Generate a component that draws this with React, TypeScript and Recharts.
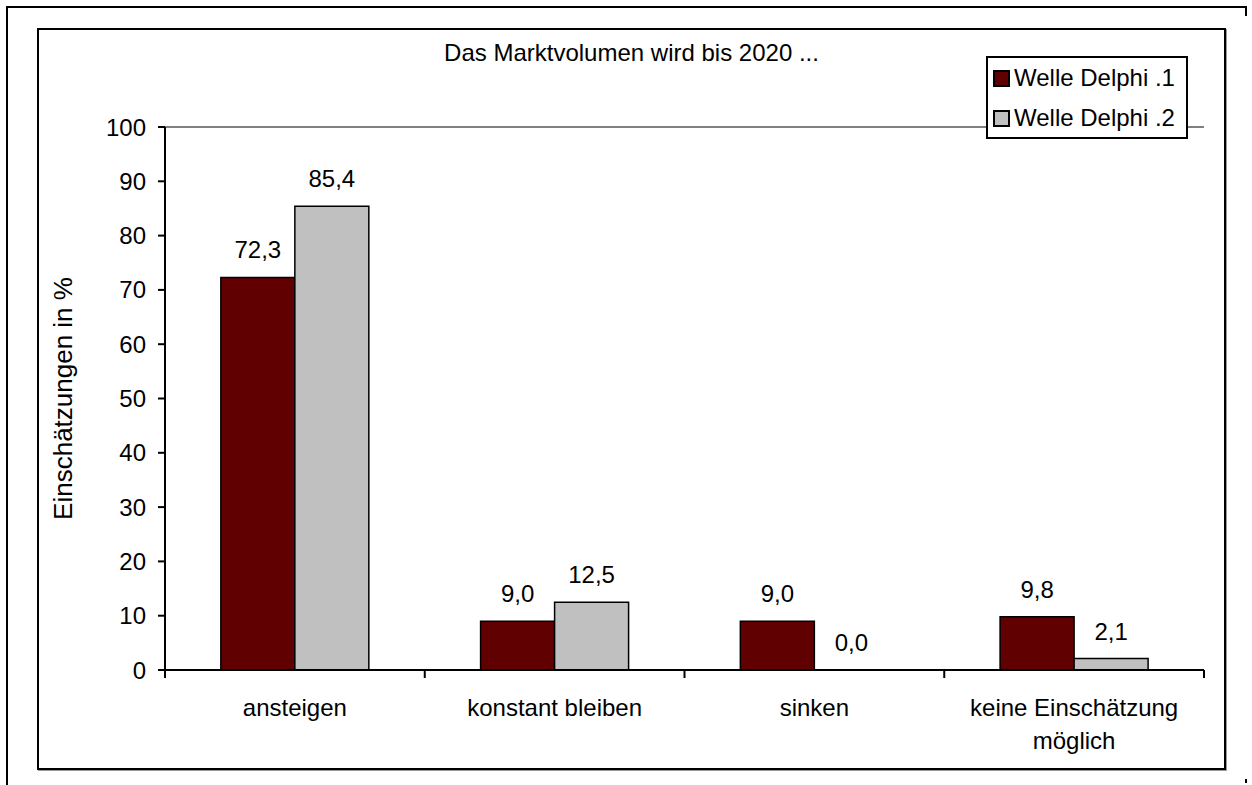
import React from "react";
import { BarChart, Bar, XAxis, YAxis, Legend, LabelList, ReferenceLine } from "recharts";

const categories = ["ansteigen", "konstant bleiben", "sinken", "keine Einschätzung\nmöglich"];
const welle1 = [72.3, 9.0, 9.0, 9.8];
const welle2 = [85.4, 12.5, 0.0, 2.1];
const yTicks = [0, 10, 20, 30, 40, 50, 60, 70, 80, 90, 100];
const seriesNames = ["Welle Delphi .1", "Welle Delphi .2"];

const COLORS = { w1: "#600000", w2: "#C0C0C0" };
const FONT = "'Liberation Sans', Arial, sans-serif";

const W = 1252;
const H = 785;
const MARGIN = { top: 127, right: 48, bottom: 55, left: 105 };
const Y_W = 60;
const PLOT_W = W - MARGIN.left - Y_W - MARGIN.right;
const HALF_BAND = PLOT_W / categories.length / 2;

const data = categories.map((c, i) => ({ name: c, w1: welle1[i], w2: welle2[i] }));

const fmt = (v: any) => Number(v).toFixed(1).replace(".", ",");

// zero values still need their "0,0" label, so give them a hairline bar
const zeroMin = (v: any) => (Number(v) === 0 ? 0.01 : 0);

const XTick = (props: any) => {
  const { x, y, payload, index } = props;
  const lines = String(payload.value).split("\n");
  return (
    <g>
      <line x1={x - HALF_BAND} y1={y} x2={x - HALF_BAND} y2={y + 8} stroke="#000" strokeWidth={2} />
      {index === categories.length - 1 && (
        <line x1={x + HALF_BAND} y1={y} x2={x + HALF_BAND} y2={y + 8} stroke="#000" strokeWidth={2} />
      )}
      <text x={x} y={y + 46} textAnchor="middle" fontSize={24} fill="#000">
        {lines.map((l, i) => (
          <tspan key={i} x={x} dy={i === 0 ? 0 : 33}>
            {l}
          </tspan>
        ))}
      </text>
    </g>
  );
};

const LegendBox = () => (
  <div
    style={{
      border: "2px solid #000",
      background: "#fff",
      width: 202,
      height: 83,
      boxSizing: "border-box",
      fontFamily: FONT,
      fontSize: 24,
      color: "#000",
    }}
  >
    {seriesNames.map((n, i) => (
      <div key={n} style={{ display: "flex", alignItems: "center", height: 40, paddingLeft: 5 }}>
        <span
          style={{
            display: "inline-block",
            width: 17,
            height: 17,
            boxSizing: "border-box",
            border: "2px solid #000",
            background: i === 0 ? COLORS.w1 : COLORS.w2,
            marginRight: 4,
          }}
        />
        <span style={{ lineHeight: "40px", whiteSpace: "nowrap" }}>{n}</span>
      </div>
    ))}
  </div>
);

const YLabel = (props: any) => {
  const { viewBox } = props;
  const cx = viewBox.x - 33;
  const cy = viewBox.y + viewBox.height / 2;
  return (
    <text x={cx} y={cy} textAnchor="middle" fontSize={26} fill="#000" transform={`rotate(-90 ${cx} ${cy})`}>
      Einschätzungen in %
    </text>
  );
};

export default function App() {
  return (
    <div style={{ position: "absolute", left: 0, top: 0, width: W, height: H, background: "#fff", fontFamily: FONT }}>
      {/* outer frame (top + left only) */}
      <div style={{ position: "absolute", left: 6, top: 6, width: 1241, height: 779, borderTop: "2px solid #000", borderLeft: "2px solid #000", boxSizing: "border-box" }} />
      <div style={{ position: "absolute", left: 1245, top: 6, width: 2, height: 10, background: "#000" }} />
      <div style={{ position: "absolute", left: 1245, top: 779, width: 2, height: 4, background: "#000" }} />
      {/* inner frame */}
      <div
        style={{
          position: "absolute",
          left: 37,
          top: 28,
          width: 1189,
          height: 742,
          border: "2px solid #000",
          boxSizing: "border-box",
          boxShadow: "1px 1px 0 #999",
        }}
      />
      <div style={{ position: "absolute", left: 37, width: 1189, top: 39, textAlign: "center", fontSize: 24, lineHeight: "28px", color: "#000" }}>
        Das Marktvolumen wird bis 2020 ...
      </div>
      <div style={{ position: "absolute", left: 0, top: 0 }}>
        <BarChart
          width={W}
          height={H}
          data={data}
          margin={MARGIN}
          barCategoryGap="21.5%"
          barGap={0}
          style={{ fontFamily: FONT }}
        >
          <XAxis
            dataKey="name"
            interval={0}
            height={60}
            tickSize={0}
            tickMargin={0}
            tickLine={false}
            axisLine={{ stroke: "#000", strokeWidth: 2 }}
            tick={<XTick />}
          />
          <YAxis
            domain={[0, 100]}
            ticks={yTicks}
            interval={0}
            width={Y_W}
            tickSize={7}
            tickMargin={12}
            tickLine={{ stroke: "#000", strokeWidth: 2 }}
            axisLine={{ stroke: "#000", strokeWidth: 2 }}
            tick={{ fontSize: 24, fill: "#000" }}
            label={<YLabel />}
          />
          <YAxis
            yAxisId="right"
            orientation="right"
            domain={[0, 100]}
            width={0}
            tick={false}
            tickLine={false}
            axisLine={{ stroke: "#808080", strokeWidth: 2 }}
          />
          <ReferenceLine y={100} stroke="#808080" strokeWidth={2} />
          <Legend
            layout="vertical"
            align="center"
            verticalAlign="middle"
            content={<LegendBox />}
            wrapperStyle={{ position: "absolute", left: 986, top: 56, width: 202, height: 83 }}
          />
          <Bar dataKey="w1" name={seriesNames[0]} fill={COLORS.w1} stroke="#000" strokeWidth={1.5} minPointSize={zeroMin} isAnimationActive={false}>
            <LabelList dataKey="w1" position="top" offset={19} formatter={fmt} fontSize={24} fill="#000" />
          </Bar>
          <Bar dataKey="w2" name={seriesNames[1]} fill={COLORS.w2} stroke="#000" strokeWidth={1.5} minPointSize={zeroMin} isAnimationActive={false}>
            <LabelList dataKey="w2" position="top" offset={19} formatter={fmt} fontSize={24} fill="#000" />
          </Bar>
        </BarChart>
      </div>
    </div>
  );
}
